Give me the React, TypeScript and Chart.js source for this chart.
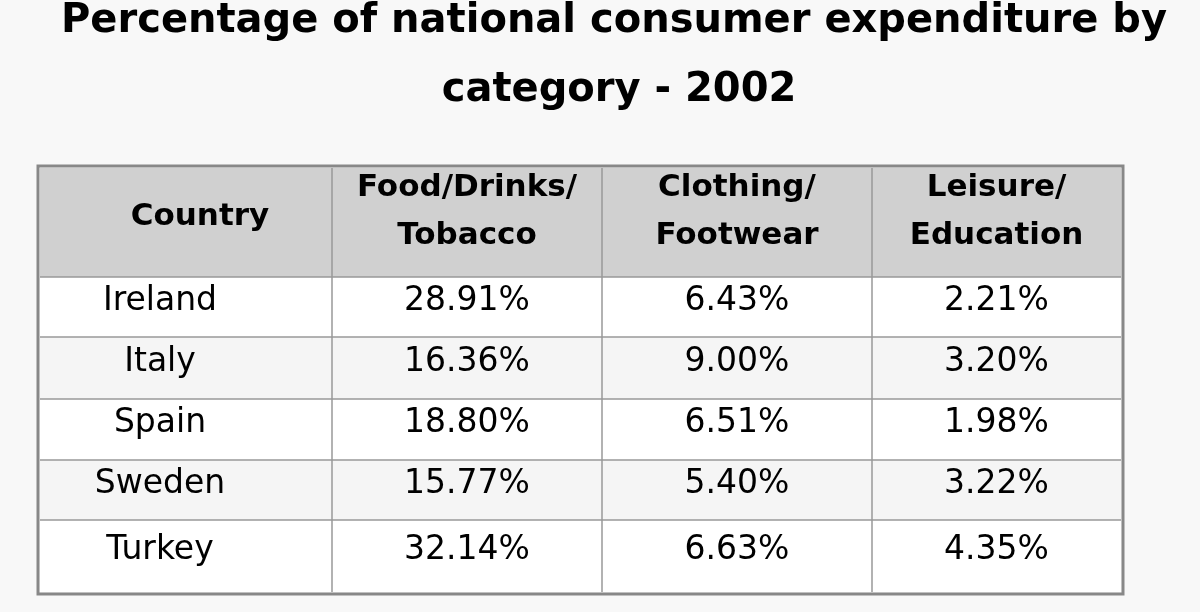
import React, { useEffect, useRef } from 'react';
import Chart from 'chart.js/auto';

const titleLines = ['Percentage of national consumer expenditure by', 'category - 2002'];
const headers = [['Country'], ['Food/Drinks/', 'Tobacco'], ['Clothing/', 'Footwear'], ['Leisure/', 'Education']];
const countries = ['Ireland', 'Italy', 'Spain', 'Sweden', 'Turkey'];
const foodDrinks = ['28.91%', '16.36%', '18.80%', '15.77%', '32.14%'];
const clothing = ['6.43%', '9.00%', '6.51%', '5.40%', '6.63%'];
const leisure = ['2.21%', '3.20%', '1.98%', '3.22%', '4.35%'];

// layout in table units (x: pixels across table, y: pixels down table)
const colEdges = [0, 292, 562, 832, 1081];
const rowEdges = [0, 109, 169, 231, 292, 352, 424];
const FONT = '"DejaVu Sans", sans-serif';

const tablePlugin = {
  id: 'table',
  beforeDraw(chart: any) {
    const { ctx, scales } = chart;
    const x = (v: number) => scales.x.getPixelForValue(v);
    const y = (v: number) => scales.y.getPixelForValue(v);
    ctx.save();
    ctx.fillStyle = '#f8f8f8';
    ctx.fillRect(0, 0, chart.width, chart.height);

    // title
    ctx.fillStyle = '#000';
    ctx.font = `bold 40px ${FONT}`;
    ctx.textAlign = 'center';
    ctx.textBaseline = 'middle';
    ctx.fillText(titleLines[0], 614, 22);
    ctx.fillText(titleLines[1], 619, 91);

    const cols = [countries, foodDrinks, clothing, leisure];
    // rows backgrounds
    for (let r = 0; r < rowEdges.length - 1; r++) {
      ctx.fillStyle = r === 0 ? '#d0d0d0' : r % 2 === 1 ? '#ffffff' : '#f5f5f5';
      ctx.fillRect(x(0), y(rowEdges[r]), x(colEdges[4]) - x(0), y(rowEdges[r + 1]) - y(rowEdges[r]));
    }
    // grid lines
    ctx.strokeStyle = '#999';
    ctx.lineWidth = 1.5;
    for (let r = 1; r < rowEdges.length - 1; r++) {
      ctx.beginPath();
      ctx.moveTo(x(0), y(rowEdges[r]));
      ctx.lineTo(x(colEdges[4]), y(rowEdges[r]));
      ctx.stroke();
    }
    for (let c = 1; c < colEdges.length - 1; c++) {
      ctx.beginPath();
      ctx.moveTo(x(colEdges[c]), y(0));
      ctx.lineTo(x(colEdges[c]), y(rowEdges[rowEdges.length - 1]));
      ctx.stroke();
    }
    ctx.strokeStyle = '#888';
    ctx.lineWidth = 3;
    ctx.strokeRect(x(0) - 2, y(0) - 2, x(colEdges[4]) - x(0) + 4, y(rowEdges[6]) - y(0) + 4);

    // header text
    ctx.fillStyle = '#000';
    ctx.font = `bold 31px ${FONT}`;
    headers.forEach((h, c) => {
      const cx = c === 0 ? 200 : (x(colEdges[c]) + x(colEdges[c + 1])) / 2;
      const cy = (y(rowEdges[0]) + y(rowEdges[1])) / 2;
      if (h.length === 1) ctx.fillText(h[0], cx, cy - 6);
      else {
        ctx.fillText(h[0], cx, cy - 35);
        ctx.fillText(h[1], cx, cy + 13);
      }
    });
    // body
    ctx.font = `33px ${FONT}`;
    cols.forEach((col, c) => {
      const cx = c === 0 ? 160 : (x(colEdges[c]) + x(colEdges[c + 1])) / 2;
      col.forEach((v, i) => {
        const cy = (y(rowEdges[i + 1]) + y(rowEdges[i + 2])) / 2;
        ctx.fillText(v, cx, cy - 6);
      });
    });
    ctx.restore();
  },
};

export default function App() {
  const canvasRef = useRef<HTMLCanvasElement>(null);
  const chartRef = useRef<Chart | null>(null);

  useEffect(() => {
    if (!canvasRef.current) return;
    if (chartRef.current) chartRef.current.destroy();
    chartRef.current = new Chart(canvasRef.current, {
      type: 'scatter',
      data: { datasets: [{ data: [] }] },
      options: {
        animation: false,
        responsive: false,
        layout: { padding: { left: 40, right: 79, top: 168, bottom: 20 } },
        plugins: { legend: { display: false }, title: { display: false }, tooltip: { enabled: false } },
        scales: {
          x: { type: 'linear', min: colEdges[0], max: colEdges[4], display: false },
          y: { type: 'linear', min: 0, max: rowEdges[6], reverse: true, display: false },
        },
      },
      plugins: [tablePlugin],
    });
    return () => {
      if (chartRef.current) chartRef.current.destroy();
    };
  }, []);

  return (
    <div style={{ position: 'absolute', left: 0, top: 0, width: 1200, height: 612 }}>
      <canvas ref={canvasRef} width={1200} height={612}></canvas>
    </div>
  );
}
